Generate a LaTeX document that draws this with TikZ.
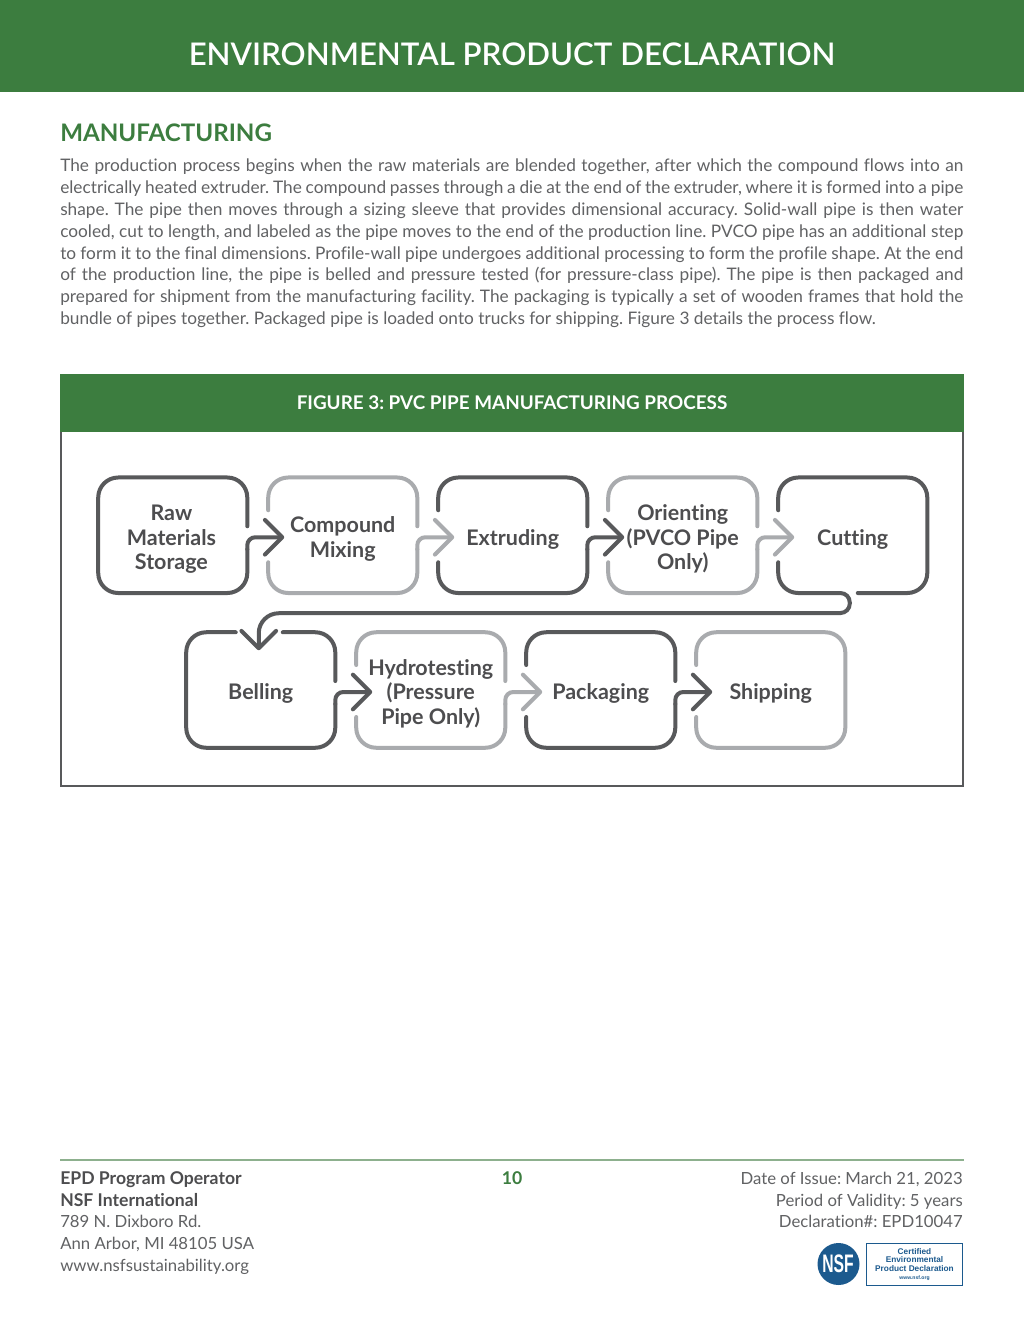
\documentclass[tikz,border=0pt]{standalone}
\usepackage{fontspec}
\setmainfont{Lato}[Ligatures=NoCommon]
\newfontfamily\medfont{Lato Semibold}[Ligatures=NoCommon]
\newfontfamily\logofont{Liberation Sans}
\usetikzlibrary{calc,arrows.meta}
\definecolor{hgreen}{HTML}{3C7D3F}
\definecolor{dk}{HTML}{58595B}
\definecolor{lt}{HTML}{A9ABAE}
\definecolor{txt}{HTML}{4D4D4F}
\definecolor{body}{HTML}{616264}
\definecolor{nsf}{HTML}{1C5A8E}
\definecolor{rule}{HTML}{8DB08E}
\newcommand{\steptext}[1]{\raisebox{-8pt}[0pt][0pt]{\begin{tabular}[c]{@{}c@{}}#1\end{tabular}}}
\tikzset{
  stepbox/.style={minimum width=111.4pt,minimum height=86.25pt,inner sep=0pt,
    text=txt,font=\fontsize{16.1}{18.2}\selectfont\bfseries},
  outl/.style={draw=#1,line width=3pt,line cap=round,rounded corners=15pt},
  link/.style={draw=#1,line width=3pt,line cap=round,rounded corners=6pt,
    -{Straight Barb[length=13pt,width=26pt,round,line width=3pt]}},
  flat/.style={inner sep=0pt,text=body,font=\fontsize{12.55}{16.35}\selectfont},
  bold/.style={inner sep=0pt,text=txt,font=\fontsize{13.2}{16.35}\selectfont\bfseries},
}
\newcommand{\upperpart}[2]{\draw[outl=#2] ($(#1.west)+(0,-25)$) -- (#1.north west) -- (#1.north east) -- ($(#1.east)+(0,-9)$);}
\newcommand{\lowerpart}[2]{\draw[outl=#2] ($(#1.west)+(0,27)$) -- (#1.south west) -- (#1.south east) -- ($(#1.east)+(0,14)$);}
\newcommand{\linkto}[3]{\draw[link=#3] ($(#1.east)+(0,14)$) -- ($(#1.east)+(0,2)$) -- ($(#2.west)+(16,2)$);}
\begin{document}
\frenchspacing
\begin{tikzpicture}[x=0.75pt,y=-0.75pt]
\useasboundingbox (0,0) rectangle (1024,1325);
\fill[white] (0,0) rectangle (1024,1325);
\fill[hgreen] (0,0) rectangle (1024,92);
\node[inner sep=0pt,text=white,font=\fontsize{23.4}{26}\selectfont\medfont] (title) at (512,54) {ENVIRONMENTAL PRODUCT DECLARATION};
\node[anchor=base west,inner sep=0pt,text=hgreen,font=\fontsize{18.1}{20}\selectfont\bfseries] (sec) at (60,141) {MANUFACTURING};
\node[flat,font=\fontsize{12.95}{16.35}\selectfont,anchor=north west,text width=677.25pt,align=justify] (para) at (60,159) {The production process begins when the raw materials are blended together, after which the compound flows into an\linebreak
electrically heated extruder. The compound passes through a die at the end of the extruder, where it is formed into a pipe\linebreak
shape. The pipe then moves through a sizing sleeve that provides dimensional accuracy. Solid-wall pipe is then water\linebreak
cooled, cut to length, and labeled as the pipe moves to the end of the production line. PVCO pipe has an additional step\linebreak
to form it to the final dimensions. Profile-wall pipe undergoes additional processing to form the profile shape. At the end\linebreak
of the production line, the pipe is belled and pressure tested (for pressure-class pipe). The pipe is then packaged and\linebreak
prepared for shipment from the manufacturing facility. The packaging is typically a set of wooden frames that hold the\linebreak
bundle of pipes together. Packaged pipe is loaded onto trucks for shipping. Figure 3 details the process flow.};
% figure frame
\draw[dk,line width=1.3pt] (61,375) rectangle (963,786);
\fill[hgreen] (60,374) rectangle (964,432);
\node[inner sep=0pt,text=white,font=\fontsize{14.15}{16}\selectfont\bfseries] (figt) at (512,403) {FIGURE 3: PVC PIPE MANUFACTURING PROCESS};
% step nodes
\node[stepbox] (raw) at (172.75,535.25) {\hspace*{-2pt}\steptext{Raw\\Materials\\Storage}};
\node[stepbox] (mix) at (342.75,535.25) {\steptext{Compound\\Mixing}};
\node[stepbox] (ext) at (512.75,535.25) {\steptext{Extruding}};
\node[stepbox] (ori) at (682.75,535.25) {\steptext{Orienting\\(PVCO Pipe\\Only)}};
\node[stepbox] (cut) at (852.75,535.25) {\steptext{Cutting}};
\node[stepbox] (bel) at (260.75,690) {\steptext{Belling}};
\node[stepbox] (hyd) at (430.75,690) {\steptext{Hydrotesting\\(Pressure\\Pipe Only)}};
\node[stepbox] (pac) at (600.75,690) {\steptext{Packaging}};
\node[stepbox] (shi) at (770.75,690) {\steptext{Shipping}};
% outlines
\draw[outl=dk] ($(raw.east)+(0,-9)$) -- (raw.north east) -- (raw.north west) -- (raw.south west) -- (raw.south east) -- ($(raw.east)+(0,14)$);
\upperpart{mix}{lt}\lowerpart{mix}{lt}
\upperpart{ext}{dk}\lowerpart{ext}{dk}
\upperpart{ori}{lt}\lowerpart{ori}{lt}
\draw[outl=dk] ($(cut.west)+(0,-25)$) -- (cut.north west) -- (cut.north east) -- (cut.south east) -- ($(cut.south)+(5,0)$);
\draw[outl=dk] ($(bel.north)+(-25,0)$) -- (bel.north west) -- (bel.south west) -- (bel.south east) -- ($(bel.east)+(0,14)$);
\draw[outl=dk] ($(bel.north)+(22,0)$) -- (bel.north east) -- ($(bel.east)+(0,-9)$);
\upperpart{hyd}{lt}\lowerpart{hyd}{lt}
\upperpart{pac}{dk}\lowerpart{pac}{dk}
\draw[outl=lt] ($(shi.west)+(0,-25)$) -- (shi.north west) -- (shi.north east) -- (shi.south east) -- (shi.south west) -- ($(shi.west)+(0,27)$);
% connectors
\linkto{raw}{mix}{dk}
\linkto{mix}{ext}{lt}
\linkto{ext}{ori}{dk}
\linkto{ori}{cut}{lt}
\linkto{bel}{hyd}{dk}
\linkto{hyd}{pac}{lt}
\linkto{pac}{shi}{dk}
\draw[link=dk] ($(cut.west)+(0,27)$) [rounded corners=15pt] -- (cut.south west) [rounded corners=7pt] -- ($(cut.south)+(-3,0)$) -- ($(cut.south)+(-3,20)$) [rounded corners=15pt] -- ($(bel.north)+(-2,-19)$) -- ($(bel.north)+(-2,18)$);
% footer
\draw[rule,line width=0.9pt] (60,1160) -- (964,1160);
\node[bold,anchor=base west] (f1) at (60,1184) {EPD Program Operator};
\node[bold,anchor=base west] (f2) at (60,1206) {NSF International};
\node[flat,anchor=base west] (f3) at (60,1227.5) {789 N. Dixboro Rd.};
\node[flat,anchor=base west] (f4) at (60,1249.5) {Ann Arbor, MI 48105 USA};
\node[flat,anchor=base west] (f5) at (60,1271) {www.nsfsustainability.org};
\node[bold,anchor=base,text=hgreen] (pg) at (512,1184) {10};
\node[flat,anchor=base east] (r1) at (963,1184) {Date of Issue: March 21, 2023};
\node[flat,anchor=base east] (r2) at (963,1206) {Period of Validity: 5 years};
\node[flat,anchor=base east] (r3) at (963,1227.5) {Declaration\#: EPD10047};
% logo
\node[circle,fill=nsf,minimum size=31.5pt,inner sep=0pt] (seal) at (838.5,1264) {};
\node[inner sep=0pt,text=white,xscale=0.62,font=\logofont\fontsize{19}{20}\selectfont\bfseries] (nsft) at (838,1264) {NSF};
\node[draw=nsf,line width=0.7pt,minimum width=72.5pt,minimum height=31.5pt,inner sep=0pt] (cert) at (914.5,1264) {};
\node[inner sep=0pt,text=nsf,align=center,font=\logofont\fontsize{6.2}{6.2}\selectfont\bfseries] (certt) at (914.5,1260) {Certified\\Environmental\\Product Declaration};
\node[inner sep=0pt,text=nsf,font=\logofont\fontsize{3.8}{4}\selectfont\bfseries] (certu) at (914.5,1278.5) {www.nsf.org};
\end{tikzpicture}
\end{document}
